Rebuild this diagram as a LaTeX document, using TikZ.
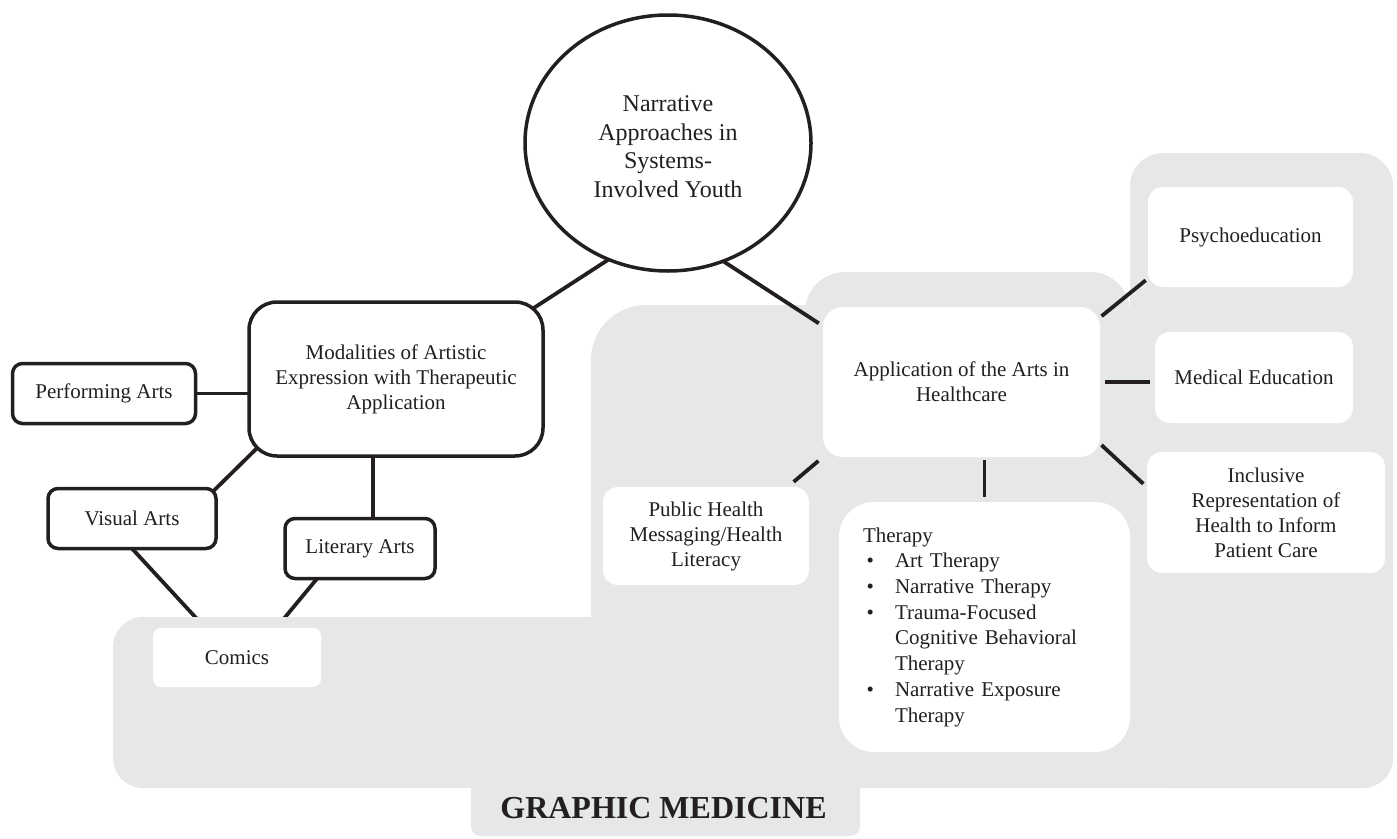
\documentclass[tikz,border=0pt]{standalone}
\usepackage{fontspec}
\setmainfont{Liberation Serif}
\usepackage{tikz}
\usetikzlibrary{shapes.geometric}
\usepackage{xcolor}
\definecolor{ink}{HTML}{231F20}
\definecolor{panel}{HTML}{E6E7E8}
\pgfdeclarelayer{under}
\pgfdeclarelayer{bg}
\pgfdeclarelayer{links}
\pgfsetlayers{under,bg,links,main}
\newcommand{\thbul}{\hspace*{3.5pt}\makebox[28.5pt][l]{\textbullet}}
\newcommand{\thgap}{\hspace*{32pt}}

\begin{document}
\begin{tikzpicture}[x=1pt,y=-1pt,
  txt/.style={font=\fontsize{21}{25}\selectfont, text=ink, align=center, inner sep=0pt, outer sep=0pt},
  framed/.style={txt, draw=ink, line width=3.5pt, fill=white, rounded corners=10pt},
  plain/.style={txt, fill=white, rounded corners=15pt},
  link/.style={draw=ink, line width=3.8pt}]
\useasboundingbox (0,0) rectangle (1397,838);

% Centre and left branch
\node[txt, ellipse, draw=ink, line width=3.5pt, fill=white, minimum width=286pt, minimum height=256pt,
  font=\fontsize{24}{28.5}\selectfont] (youth) at (668,143) {\\[-5pt]Narrative\\Approaches in\\Systems-\\Involved Youth};
\node[framed, rounded corners=28pt, minimum width=294pt, minimum height=154pt] (modal) at (396,379)
  {Modalities of Artistic\\Expression with Therapeutic\\Application};
\node[framed, minimum width=183pt, minimum height=60pt] (perform) at (104,393.5) {Performing Arts};
\node[framed, minimum width=168pt, minimum height=60pt] (visual) at (132,518.5) {Visual Arts};
\node[framed, minimum width=150pt, minimum height=60pt] (literary) at (360,548.5) {Literary Arts};
\node[plain, rounded corners=8pt, minimum width=168pt, minimum height=59pt] (comics) at (237,657.5) {Comics};

% Right branch
\node[plain, rounded corners=20pt, minimum width=277pt, minimum height=150pt] (app) at (961.5,382)
  {Application of the Arts in\\Healthcare};
\node[plain, minimum width=206pt, minimum height=98pt] (public) at (706,536)
  {Public Health\\Messaging/Health\\Literacy};
\node[plain, rounded corners=35pt, minimum width=291pt, minimum height=250pt, text width=243pt, align=left,
  font=\fontsize{21}{25.7}\selectfont] (therapy) at (984.5,627)
  {\begin{tabular}{@{}l@{}}
   Therapy\\
   \thbul Art Therapy\\
   \thbul Narrative Therapy\\
   \thbul Trauma-Focused\\
   \thgap Cognitive Behavioral\\
   \thgap Therapy\\
   \thbul Narrative Exposure\\
   \thgap Therapy
   \end{tabular}};
\node[plain, minimum width=205pt, minimum height=100pt] (psycho) at (1250.5,237) {Psychoeducation};
\node[plain, minimum width=198pt, minimum height=91pt] (medical) at (1254,377.5) {Medical Education};
\node[plain, minimum width=238pt, minimum height=121pt] (inclusive) at (1266,512.5)
  {Inclusive\\Representation of\\Health to Inform\\Patient Care};

\node[txt, font=\fontsize{32}{36}\selectfont\bfseries] (title) at (663.5,808) {GRAPHIC MEDICINE};

% Grey panels
\begin{pgfonlayer}{bg}
\fill[panel, rounded corners=30pt] (113,617) rectangle (1393,788);
\fill[panel, rounded corners=10pt] (471,760) rectangle (860,836);
\fill[panel, rounded corners=55pt] (591,305) rectangle (1130,700);
\fill[panel, rounded corners=40pt] (805,272) rectangle (1130,700);
\fill[panel, rounded corners=33pt] (1130,153) rectangle (1393,788);
\end{pgfonlayer}

% Connectors
\begin{pgfonlayer}{under}
\draw[link] (visual.south) -- (comics.137);
\draw[link] (literary.215) -- (comics.37);
\end{pgfonlayer}
\begin{pgfonlayer}{links}
\draw[link, shorten >=-15pt] (youth.243) -- (modal.north east);
\draw[link, shorten >=5pt] (youth.295) -- (app.158);
\draw[link] (perform.east) -- (perform.east -| modal.west);
\draw[link, shorten <=-12pt, shorten >=-5pt] (modal.south west) -- (visual.north east);
\draw[link] ([xshift=13pt]literary.north) -- ([xshift=13pt]literary.north |- modal.south);
\draw[link, shorten <=2pt, shorten >=3pt] (app.25) -- (psycho.202);
\draw[link, shorten <=5pt, shorten >=5pt] (app.east) -- (app.east -| medical.west);
\draw[link, shorten <=2pt, shorten >=5pt] (app.336) -- (inclusive.168);
\draw[link, shorten <=3pt, shorten >=5pt] (app.south -| therapy.north) -- (therapy.north);
\draw[link, shorten <=6pt, shorten >=8pt] (app.south west) -- (public.31);
\end{pgfonlayer}
\end{tikzpicture}
\end{document}
